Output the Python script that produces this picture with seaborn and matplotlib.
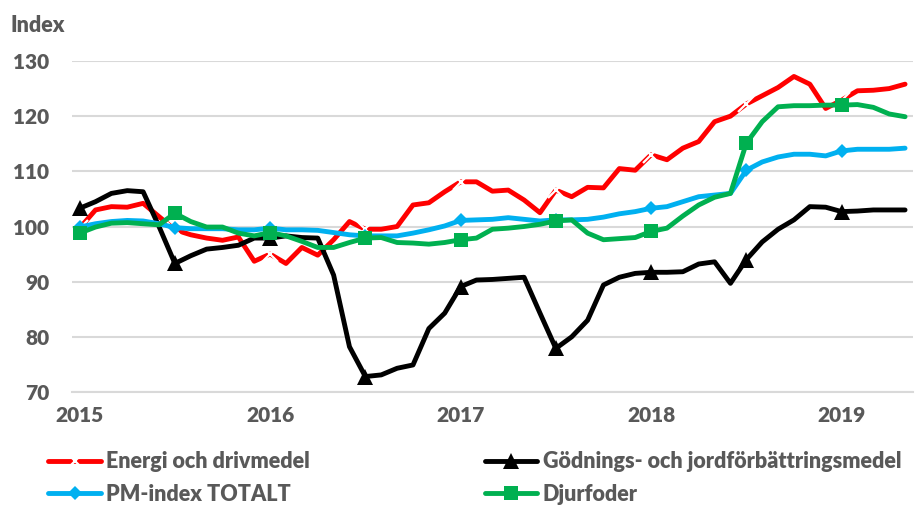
import matplotlib
matplotlib.use("Agg")
import matplotlib.pyplot as plt
from matplotlib.ticker import FixedLocator
import seaborn as sns
import pandas as pd
import numpy as np

# ---- data (monthly, Jan 2015 - May 2019) ----
years = ["2015", "2016", "2017", "2018", "2019"]
energi = [99.7, 103.0, 103.6, 103.5, 104.2, 101.8, 99.4, 98.5, 97.9, 97.5, 98.1, 93.7, 95.0,
          93.3, 96.2, 94.8, 97.6, 100.9, 99.5, 99.5, 100.0, 103.9, 104.3, 106.3, 108.1, 108.1,
          106.4, 106.6, 104.8, 102.5, 106.6, 105.4, 107.1, 107.0, 110.5, 110.2, 113.0, 112.1, 114.2, 115.4,
          119.0, 120.0, 122.2, 123.7, 125.2, 127.2, 125.8, 121.4, 122.9, 124.6, 124.7, 125.0, 125.8]
godning = [103.3, 104.5, 106.0, 106.5, 106.3, 100.0, 93.3, 94.7, 95.9, 96.2, 96.6, 97.9, 97.9,
           98.3, 98.0, 97.9, 91.2, 78.2, 72.8, 73.1, 74.3, 74.9, 81.5, 84.3, 89.1, 90.3,
           90.4, 90.6, 90.8, 84.3, 77.9, 80.0, 83.0, 89.4, 90.8, 91.5, 91.7, 91.7, 91.8, 93.2,
           93.6, 89.7, 94.0, 97.2, 99.5, 101.2, 103.6, 103.5, 102.7, 102.8, 103.0, 103.0, 103.0]
pm_index = [99.9, 100.5, 100.9, 101.1, 101.0, 100.5, 99.8, 99.6, 99.6, 99.6, 99.4, 99.4, 99.7,
            99.4, 99.4, 99.3, 98.9, 98.5, 98.3, 98.3, 98.3, 98.8, 99.4, 100.1, 101.1, 101.2,
            101.3, 101.6, 101.3, 101.0, 101.2, 101.2, 101.3, 101.7, 102.3, 102.7, 103.3, 103.6, 104.5, 105.4,
            105.7, 106.0, 110.2, 111.7, 112.6, 113.1, 113.1, 112.8, 113.7, 114.0, 114.0, 114.0, 114.2]
djurfoder = [98.8, 99.9, 100.6, 100.7, 100.5, 100.3, 102.4, 100.9, 99.9, 99.9, 98.8, 98.3, 98.9,
             98.3, 97.3, 96.2, 96.2, 97.1, 97.9, 98.0, 97.1, 97.0, 96.8, 97.1, 97.6, 97.9,
             99.5, 99.7, 100.0, 100.4, 101.0, 101.2, 98.8, 97.6, 97.8, 98.0, 99.1, 99.7, 101.9, 103.9,
             105.3, 106.0, 115.1, 119.0, 121.7, 121.9, 121.9, 122.0, 122.0, 122.1, 121.6, 120.4, 119.9]
series_names = ["Energi och drivmedel", "Gödnings- och jordförbättringsmedel",
                "PM-index TOTALT", "Djurfoder"]

month = np.arange(len(energi))
df = pd.DataFrame({"month": month, series_names[0]: energi, series_names[1]: godning,
                   series_names[2]: pm_index, series_names[3]: djurfoder})

sns.set_theme(style="white")
plt.rcParams["font.family"] = ["Lato", "DejaVu Sans"]

TXT = "#595959"
GRID = "#D9D9D9"
WEIGHT = "heavy"

fig = plt.figure(figsize=(9.17, 5.05), dpi=100)
ax = fig.add_axes([71.7 / 917, 1 - 392 / 505, (913 - 71.7) / 917, (392 - 61) / 505])

styles = [
    dict(color="#FF0000", marker="x", markersize=11.5, markeredgewidth=1.6),
    dict(color="#000000", marker="^", markersize=11, markeredgewidth=0),
    dict(color="#00B0F0", marker="D", markersize=7.5, markeredgewidth=0),
    dict(color="#00B050", marker="s", markersize=10.5, markeredgewidth=0),
]
for name, st in zip(series_names, styles):
    sns.lineplot(data=df, x="month", y=name, ax=ax, label=name, linewidth=3.5,
                 markevery=6, legend=False, **st)

ax.set_xlim(-0.5, len(energi) - 0.5)
ax.set_ylim(70, 130)
ax.set_yticks(np.arange(70, 131, 10))
ax.grid(axis="y", color=GRID, linewidth=1.5)
ax.grid(axis="x", visible=False)
ax.set_axisbelow(True)
ax.set_xlabel("")
ax.set_ylabel("")

ax.set_xticks([0, 12, 24, 36, 48])
ax.set_xticklabels(years)
ax.xaxis.set_minor_locator(FixedLocator(np.arange(-0.5, len(energi), 3)))
ax.tick_params(axis="x", which="major", length=0, pad=10, labelsize=15, labelcolor=TXT)
ax.tick_params(axis="x", which="minor", length=4.5, width=1.3, color=GRID, direction="out")
ax.tick_params(axis="y", length=0, pad=16, labelsize=15, labelcolor=TXT)
for lab in ax.get_xticklabels() + ax.get_yticklabels():
    lab.set_fontweight(WEIGHT)

for s in ["left", "right", "top"]:
    ax.spines[s].set_visible(False)
ax.spines["bottom"].set_color(GRID)
ax.spines["bottom"].set_linewidth(1.5)

fig.text(10 / 917, 1 - 25 / 505, "Index", ha="left", va="center", fontsize=15.5,
         fontweight=WEIGHT, color=TXT)

h, l = ax.get_legend_handles_labels()
order = [0, 2, 1, 3]
leg = fig.legend([h[i] for i in order], [l[i] for i in order], ncol=2, loc="upper left",
                 bbox_to_anchor=(29 / 917, 1 - 432 / 505),
                 frameon=False, numpoints=1, handlelength=2.45, handletextpad=0.25,
                 columnspacing=8.1, labelspacing=0.52, fontsize=15.5)
for t in leg.get_texts():
    t.set_color(TXT)
    t.set_fontweight(WEIGHT)

fig.savefig("out.png", dpi=100)
